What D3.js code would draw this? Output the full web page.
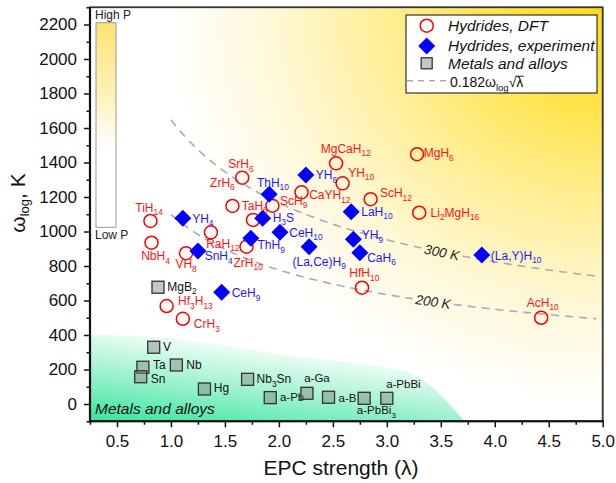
<!DOCTYPE html>
<html><head><meta charset="utf-8">
<script src="https://cdn.jsdelivr.net/npm/d3@7"></script>
<style>body{margin:0;background:#fff} svg{display:block} text{font-family:Arial,"Liberation Sans",sans-serif}</style>
</head><body><svg id="c" width="616" height="483"></svg>
<script>
// ---------------- DATA ----------------
const hydridesDFT = [
  {name:"TiH14", lambda:0.81, omega:1061},
  {name:"NbH4", lambda:0.82, omega:935},
  {name:"VH8", lambda:1.14, omega:874},
  {name:"RaH12", lambda:1.37, omega:995},
  {name:"ZrH10", lambda:1.70, omega:912},
  {name:"SrH6", lambda:1.66, omega:1312},
  {name:"ZrH6", lambda:1.57, omega:1148},
  {name:"TaH6", lambda:1.76, omega:1067},
  {name:"ScH9", lambda:1.94, omega:1150},
  {name:"MgCaH12", lambda:2.53, omega:1395},
  {name:"MgH6", lambda:3.28, omega:1448},
  {name:"YH10", lambda:2.59, omega:1279},
  {name:"CaYH12", lambda:2.21, omega:1227},
  {name:"ScH12", lambda:2.85, omega:1187},
  {name:"Li2MgH16", lambda:3.30, omega:1109},
  {name:"HfH10", lambda:2.77, omega:674},
  {name:"AcH10", lambda:4.43, omega:500},
  {name:"Hf3H13", lambda:0.96, omega:568},
  {name:"CrH3", lambda:1.11, omega:494}
];
const hydridesExp = [
  {name:"YH4", lambda:1.11, omega:1077},
  {name:"ThH10", lambda:1.91, omega:1216},
  {name:"H3S", lambda:1.85, omega:1077},
  {name:"CeH10", lambda:2.01, omega:995},
  {name:"ThH9", lambda:1.74, omega:961},
  {name:"SnH4", lambda:1.25, omega:887},
  {name:"CeH9", lambda:1.47, omega:648},
  {name:"YH6", lambda:2.25, omega:1328},
  {name:"LaH10", lambda:2.67, omega:1115},
  {name:"(La,Ce)H9", lambda:2.28, omega:912},
  {name:"YH9", lambda:2.69, omega:955},
  {name:"CaH6", lambda:2.75, omega:877},
  {name:"(La,Y)H10", lambda:3.88, omega:864}
];
const metals = [
  {name:"MgB2", lambda:0.88, omega:677},
  {name:"V", lambda:0.84, omega:329},
  {name:"Ta", lambda:0.74, omega:213},
  {name:"Sn", lambda:0.72, omega:158},
  {name:"Nb", lambda:1.05, omega:226},
  {name:"Hg", lambda:1.31, omega:87},
  {name:"Nb3Sn", lambda:1.71, omega:143},
  {name:"a-Pb", lambda:1.92, omega:37},
  {name:"a-Ga", lambda:2.26, omega:62},
  {name:"a-B", lambda:2.46, omega:39},
  {name:"a-PbBi3", lambda:2.79, omega:33},
  {name:"a-PbBi", lambda:3.00, omega:33}
];
const xTicks = [0.5,1.0,1.5,2.0,2.5,3.0,3.5,4.0,4.5,5.0];
const yTicks = [0,200,400,600,800,1000,1200,1400,1600,1800,2000,2200];
const tcLevels = [300, 200];          // K, iso-Tc curves
const tcCoef = 0.182;                 // Tc = 0.182 * omega_log * sqrt(lambda)
const metalsRegion = [[0.25,400],[0.6,397],[1.27,360],[2.09,280],[3.0,212],[3.22,182],[3.72,-100]];

// ---------------- LAYOUT (label offsets in px: dx, dy, anchor) ----------------
const labelOffsets = {
  "TiH14":[-1.4,-9.3,"middle"], "NbH4":[4,17.3,"middle"], "VH8":[0,15,"middle"], "RaH12":[-4.7,15.5,"start"],
  "ZrH10":[1.7,20,"middle"], "SrH6":[-1.3,-9.4,"middle"], "ZrH6":[2.3,-19.3,"end"], "TaH6":[1.8,-10,"middle"],
  "ScH9":[7.7,-0.7,"start"], "MgCaH12":[-15.3,-10.6,"start"], "MgH6":[6.7,3,"start"], "YH10":[5.6,-6.6,"start"],
  "CaYH12":[7.6,6.7,"start"], "ScH12":[9.3,-2,"start"], "Li2MgH16":[11.4,4,"start"], "HfH10":[-12.7,-10.4,"start"],
  "AcH10":[-14.4,-11,"start"], "Hf3H13":[11.4,-1,"start"], "CrH3":[11,9.6,"start"],
  "YH4":[9.3,4.4,"start"], "ThH10":[-12.3,-7.6,"start"], "H3S":[10,3.4,"start"], "CeH10":[9.3,4.4,"start"],
  "ThH9":[6.7,11,"start"], "SnH4":[6.7,9.5,"start"], "CeH9":[10,5,"start"], "YH6":[10,4.3,"start"],
  "LaH10":[10,4.3,"start"], "(La,Ce)H9":[-16.6,19.3,"start"], "YH9":[8.4,0,"start"], "CaH6":[7.3,9,"start"],
  "(La,Y)H10":[9,5,"start"],
  "MgB2":[9.3,3.4,"start"], "V":[9.4,3.7,"start"], "Ta":[10,1.5,"start"], "Sn":[10,6,"start"], "Nb":[10,4.3,"start"],
  "Hg":[9.4,2.7,"start"], "Nb3Sn":[9,4,"start"], "a-Pb":[9.7,3,"start"], "a-Ga":[10,-11,"middle"],
  "a-B":[10,4.4,"start"], "a-PbBi3":[-7.3,15.7,"start"], "a-PbBi":[-0.7,-10,"start"]
};
const tcLabelLambda = {300:3.51, 200:3.43};

// ---------------- CHART ----------------
const svg = d3.select("#c");
const x = d3.scaleLinear().domain([0.25,5]).range([90,602.7]);
const y = d3.scaleLinear().domain([-100,2300]).range([421.25,7.25]);
const X0 = x(0.25), X1 = x(5), Y0 = y(-100), Y1 = y(2300);

const defs = svg.append("defs");
const rg = defs.append("radialGradient").attr("id","yel").attr("gradientUnits","userSpaceOnUse")
  .attr("cx",0).attr("cy",0).attr("r",1)
  .attr("gradientTransform",`translate(${X1+4},${Y1}) scale(480,430)`);
[[0,"#FFDC18"],[0.2,"#FFE23E"],[0.45,"#FFEE92"],[0.7,"#FFF8D8"],[0.92,"#FFFFFF"]]
  .forEach(s=>rg.append("stop").attr("offset",s[0]).attr("stop-color",s[1]));
const gg = defs.append("linearGradient").attr("id","grn").attr("gradientUnits","userSpaceOnUse")
  .attr("x1",X0).attr("y1",Y0).attr("x2",X0+12).attr("y2",Y0-95);
[[0,"#36E59E"],[0.5,"#9AF1CD"],[1,"#F4FEF9"]].forEach(s=>gg.append("stop").attr("offset",s[0]).attr("stop-color",s[1]));
const cb = defs.append("linearGradient").attr("id","cbar").attr("x1",0).attr("y1",0).attr("x2",0).attr("y2",1);
[[0,"#FDE372"],[0.3,"#FEEFAE"],[0.62,"#FFFFFF"]].forEach(s=>cb.append("stop").attr("offset",s[0]).attr("stop-color",s[1]));
defs.append("clipPath").attr("id","clip").append("rect").attr("x",X0).attr("y",Y1).attr("width",X1-X0).attr("height",Y0-Y1);

const plot = svg.append("g").attr("clip-path","url(#clip)");
plot.append("rect").attr("x",X0).attr("y",Y1).attr("width",X1-X0).attr("height",Y0-Y1).attr("fill","url(#yel)");
const topLine = d3.line().x(d=>x(d[0])).y(d=>y(d[1])).curve(d3.curveMonotoneX)(metalsRegion);
plot.append("path").attr("d", topLine + `L${x(0.25)},${y(-100)}Z`).attr("fill","url(#grn)");

// colour bar
svg.append("rect").attr("x",96).attr("y",22.7).attr("width",20).attr("height",204.6)
  .attr("fill","url(#cbar)").attr("stroke","#999").attr("stroke-width",1);
svg.append("text").attr("x",95).attr("y",18.5).attr("font-size",12).attr("fill","#222").text("High P");
svg.append("text").attr("x",95).attr("y",239).attr("font-size",12).attr("fill","#222").text("Low P");

// iso-Tc curves
const curves = svg.append("g");
tcLevels.forEach(tc=>{
  const w = l => tc/(tcCoef*Math.sqrt(l));
  const lc = tcLabelLambda[tc];
  const cx = x(lc), cy = y(w(lc));
  const lams = d3.range(1.0, 4.951, 0.02);
  const seg1 = lams.filter(l=>x(l) < cx-20), seg2 = lams.filter(l=>x(l) > cx+20);
  const ln = d3.line().x(l=>x(l)).y(l=>y(w(l)));
  [seg1,seg2].forEach(s=>curves.append("path").attr("d",ln(s)).attr("fill","none")
    .attr("stroke","#a9abb4").attr("stroke-width",1.6).attr("stroke-dasharray","8 6"));
  const ang = Math.atan2(y(w(lc+0.05))-y(w(lc-0.05)), x(lc+0.05)-x(lc-0.05))*180/Math.PI;
  curves.append("text").attr("transform",`translate(${cx},${cy}) rotate(${ang})`).attr("dy","0.36em")
    .attr("text-anchor","middle").attr("font-size",13.5).attr("font-style","italic").attr("fill","#222").text(tc+" K");
});

// label helper with subscripts
function addLabel(g, name, px, py, color, size){
  const off = labelOffsets[name] || [9,4,"start"];
  const t = g.append("text").attr("x",px+off[0]).attr("y",py+off[1]).attr("text-anchor",off[2])
    .attr("fill",color).attr("font-size",size);
  let sub=false;
  name.match(/\d+|\D+/g).forEach(p=>{
    const ts = t.append("tspan").text(p);
    if(/^\d/.test(p)){ ts.attr("font-size",size*0.7).attr("dy",3.5); sub=true; }
    else if(sub){ ts.attr("dy",-3.5); sub=false; }
  });
}

const marks = svg.append("g");
// metals
metals.forEach(d=>{
  marks.append("rect").attr("x",x(d.lambda)-6).attr("y",y(d.omega)-6).attr("width",12).attr("height",12)
    .attr("fill","rgba(128,128,128,0.45)").attr("stroke","#333").attr("stroke-width",1.3);
  addLabel(marks, d.name, x(d.lambda), y(d.omega), "#111", d.name.startsWith("a-")?11.5:12);
});
// DFT
hydridesDFT.forEach(d=>{
  marks.append("circle").attr("cx",x(d.lambda)).attr("cy",y(d.omega)).attr("r",6.5)
    .attr("fill","none").attr("stroke","#ff0000").attr("stroke-width",1.5);
});
// experiment
hydridesExp.forEach(d=>{
  const h=8.5;
  marks.append("path").attr("d",`M${x(d.lambda)},${y(d.omega)-h}L${x(d.lambda)+h},${y(d.omega)}L${x(d.lambda)},${y(d.omega)+h}L${x(d.lambda)-h},${y(d.omega)}Z`)
    .attr("fill","#0000ff");
});
hydridesDFT.forEach(d=>addLabel(marks, d.name, x(d.lambda), y(d.omega), "#ff1414", 12));
hydridesExp.forEach(d=>addLabel(marks, d.name, x(d.lambda), y(d.omega), "#1a1aff", 12));

// region label
svg.append("text").attr("x",95).attr("y",414).attr("font-size",15.5).attr("font-style","italic").attr("fill","#111").text("Metals and alloys");

// axes
const ax = svg.append("g");
const xa = ax.append("g").attr("transform",`translate(0,${Y0})`)
  .call(d3.axisBottom(x).tickValues(xTicks).tickFormat(d3.format(".1f")).tickSize(6).tickSizeOuter(0).tickPadding(8));
const xm = ax.append("g").attr("transform",`translate(0,${Y0})`)
  .call(d3.axisBottom(x).tickValues(d3.range(0.25,5,0.5)).tickFormat("").tickSize(3.5).tickSizeOuter(0));
const ya = ax.append("g").attr("transform",`translate(${X0},0)`)
  .call(d3.axisLeft(y).tickValues(yTicks).tickFormat(d3.format("d")).tickSize(6).tickSizeOuter(0).tickPadding(7));
const ym = ax.append("g").attr("transform",`translate(${X0},0)`)
  .call(d3.axisLeft(y).tickValues(d3.range(-100,2301,200)).tickFormat("").tickSize(3.5).tickSizeOuter(0));
[xa,xm,ya,ym].forEach(a=>{ a.select(".domain").remove(); a.selectAll("line").attr("stroke","#111").attr("stroke-width",1.5); });
[xa,ya].forEach(a=>a.selectAll("text").attr("font-size",17).attr("fill","#111").attr("font-family","Arial,'Liberation Sans',sans-serif"));

// frame
svg.append("rect").attr("x",X0).attr("y",Y1).attr("width",X1-X0).attr("height",Y0-Y1)
  .attr("fill","none").attr("stroke","#333").attr("stroke-width",1.8);
svg.append("line").attr("x1",X0).attr("x2",X0).attr("y1",Y1).attr("y2",Y0+1).attr("stroke","#111").attr("stroke-width",2.2);
svg.append("line").attr("x1",X0-1).attr("x2",X1+1).attr("y1",Y0).attr("y2",Y0).attr("stroke","#111").attr("stroke-width",2.2);

// axis titles
svg.append("text").attr("x",341).attr("y",475).attr("text-anchor","middle").attr("font-size",21).attr("fill","#111").text("EPC strength (λ)");
const yt = svg.append("text").attr("transform","translate(25,203) rotate(-90)").attr("text-anchor","middle").attr("font-size",21).attr("fill","#111");
yt.append("tspan").text("ω");
yt.append("tspan").attr("font-size",13).attr("dy",4).text("log");
yt.append("tspan").attr("dy",-4).text(", K");

// legend
const lg = svg.append("g");
lg.append("rect").attr("x",406).attr("y",15).attr("width",191).attr("height",78).attr("fill","#fff").attr("stroke","#333").attr("stroke-width",1.2);
lg.append("circle").attr("cx",426.7).attr("cy",25.7).attr("r",6.5).attr("fill","none").attr("stroke","#ff0000").attr("stroke-width",1.5);
lg.append("path").attr("d","M426.7,37.5L435.2,46L426.7,54.5L418.2,46Z").attr("fill","#0000ff");
lg.append("rect").attr("x",421.2).attr("y",57.8).attr("width",11).attr("height",11).attr("fill","rgba(128,128,128,0.45)").attr("stroke","#333").attr("stroke-width",1.3);
lg.append("line").attr("x1",407).attr("x2",446).attr("y1",80.7).attr("y2",80.7).attr("stroke","#a9abb4").attr("stroke-width",1.4).attr("stroke-dasharray","6 5");
const legTexts = ["Hydrides, DFT","Hydrides, experiment","Metals and alloys"];
[31,50.5,68.5].forEach((yy,i)=>lg.append("text").attr("x",448).attr("y",yy).attr("font-size",15.5).attr("font-style","italic").attr("fill","#111").text(legTexts[i]));
const ft = lg.append("text").attr("x",450).attr("y",87).attr("font-size",14).attr("fill","#111").attr("font-family","'Liberation Serif','Times New Roman',serif");
ft.append("tspan").text("0.182ω");
ft.append("tspan").attr("font-size",9.5).attr("dy",3.5).text("log");
ft.append("tspan").attr("dy",-3.5).text("√λ");
const n = ft.node().getNumberOfChars();
const e = ft.node().getExtentOfChar(n-1), es = ft.node().getExtentOfChar(n-2);
lg.append("line").attr("x1",es.x+es.width-0.5).attr("x2",e.x+e.width+0.5).attr("y1",e.y+2.2).attr("y2",e.y+2.2).attr("stroke","#111").attr("stroke-width",0.9);
</script></body></html>
